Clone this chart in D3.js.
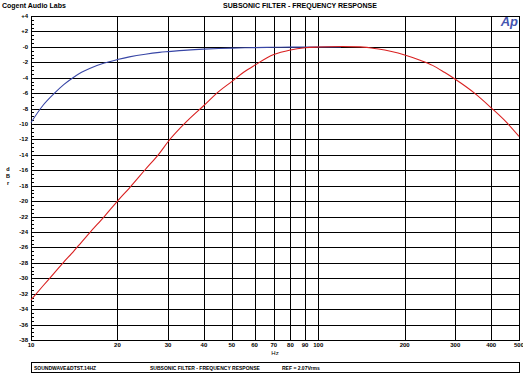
<!DOCTYPE html>
<html><head><meta charset="utf-8">
<script src="https://cdn.jsdelivr.net/npm/d3@7"></script>
<style>
body{margin:0;background:#fff;}
svg{display:block;font-family:"Liberation Sans",Arial,sans-serif;font-weight:bold;}
</style></head>
<body><svg id="c" width="523" height="374"></svg>
<script>
const xTicks = [10,20,30,40,50,60,70,80,90,100,200,300,400,500];
const yTicks = d3.range(4,-39,-2);
const yTickLabels = yTicks.map(v => (v > 0 ? "+" : "-") + Math.abs(v));
const blueFreq = [10,11,12,13,14,15,16,18,20,22,25,28,30,35,40,45,50,60,70,80,100,120];
const blueDb   = [-9.8,-7.6,-6.1,-4.9,-4.0,-3.3,-2.8,-2.1,-1.65,-1.3,-0.95,-0.72,-0.62,-0.42,-0.3,-0.22,-0.16,-0.1,-0.06,-0.04,-0.02,0];
const redFreq = [10,11,12,13,14,15,16,18,20,22,25,28,30,35,40,45,50,55,60,70,80,90,100,120,140,160,180,200,225,250,275,300,350,400,450,500];
const redDb   = [-32.8,-31.0,-29.4,-27.9,-26.6,-25.3,-24.1,-22.0,-20.0,-18.3,-15.9,-13.8,-12.3,-9.6,-7.6,-5.8,-4.5,-3.3,-2.4,-1.0,-0.4,-0.12,-0.02,0.05,0,-0.25,-0.6,-1.05,-1.7,-2.4,-3.3,-4.2,-6.0,-7.9,-9.7,-11.6];
const titleText = "SUBSONIC FILTER - FREQUENCY RESPONSE";
const brandText = "Cogent Audio Labs";
const footerTexts = ["SOUNDWAVE&DTST.14HZ","SUBSONIC FILTER - FREQUENCY RESPONSE","REF = 2.07Vrms"];

const svg = d3.select("#c");
const L = 31, R = 519, T = 16, B = 340;
const x = d3.scaleLog().domain([10,500]).range([L,R]);
const y = d3.scaleLinear().domain([-38,4]).range([B,T]);

const g = svg.append("g");
g.selectAll(".hg").data(yTicks).join("line")
  .attr("x1",L).attr("x2",R).attr("y1",d=>Math.round(y(d))+0.5).attr("y2",d=>Math.round(y(d))+0.5)
  .attr("stroke","#000").attr("stroke-width",1);
g.selectAll(".vg").data(xTicks).join("line")
  .attr("y1",T).attr("y2",B).attr("x1",d=>Math.round(x(d))+0.5).attr("x2",d=>Math.round(x(d))+0.5)
  .attr("stroke","#000").attr("stroke-width",1);
svg.append("rect").attr("x",L+0.5).attr("y",T+0.5).attr("width",R-L).attr("height",B-T)
  .attr("fill","none").attr("stroke","#000");

const minor = d3.range(4,-38.01,-0.5).filter(v=>Math.abs(v%2)>0.01);
svg.selectAll(".mt").data(minor).join("line")
  .attr("x1",L).attr("x2",L+3).attr("y1",d=>Math.round(y(d))+0.5).attr("y2",d=>Math.round(y(d))+0.5)
  .attr("stroke","#000");

svg.selectAll(".yl").data(yTicks).join("text")
  .attr("x",L-3).attr("y",d=>y(d)+2).attr("text-anchor","end")
  .attr("font-size",6).text((d,i)=>yTickLabels[i]);
svg.selectAll(".xl").data(xTicks).join("text")
  .attr("x",d=>x(d)).attr("y",B+7).attr("text-anchor","middle")
  .attr("font-size",6).text(d=>d);

const line = d3.line().x(d=>x(d[0])).y(d=>y(d[1])).curve(d3.curveMonotoneX);
svg.append("path").datum(blueFreq.map((f,i)=>[f,blueDb[i]]))
  .attr("d",line).attr("fill","none").attr("stroke","#3846a6").attr("stroke-width",1.1);
svg.append("path").datum(redFreq.map((f,i)=>[f,redDb[i]]))
  .attr("d",line).attr("fill","none").attr("stroke","#d92020").attr("stroke-width",1.1);

svg.append("text").attr("x",2).attr("y",8).attr("font-size",7).text(brandText);
svg.append("text").attr("x",300).attr("y",8).attr("text-anchor","middle").attr("font-size",7).text(titleText);
svg.append("text").attr("x",518).attr("y",26).attr("text-anchor","end").attr("font-size",13)
  .attr("font-style","italic").attr("fill","#4455b0").text("Ap");
svg.append("text").attr("x",275).attr("y",355).attr("text-anchor","middle").attr("font-size",6).attr("font-weight","normal").text("Hz");
["d","B","r"].forEach((c,i)=>svg.append("text").attr("x",8).attr("y",171+i*7).attr("text-anchor","middle").attr("font-size",5.5).text(c));

svg.append("rect").attr("x",31.5).attr("y",362.5).attr("width",488).attr("height",10).attr("fill","none").attr("stroke","#000");
const fx = [34,150,282];
footerTexts.forEach((t,i)=>svg.append("text").attr("x",fx[i]).attr("y",370).attr("font-size",5).text(t));
</script></body></html>
